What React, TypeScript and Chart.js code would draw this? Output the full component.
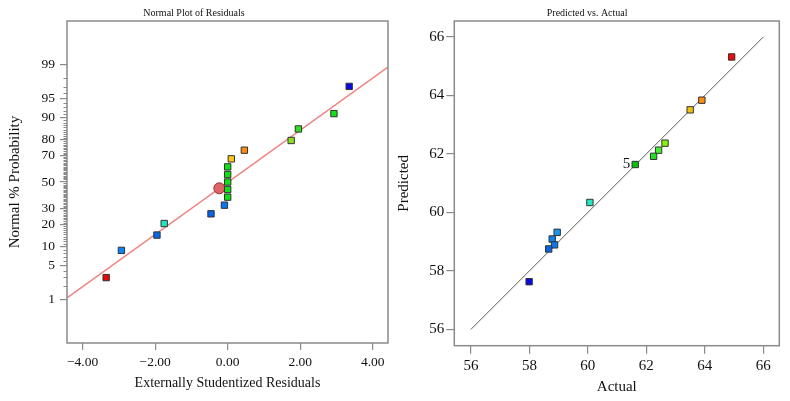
import React, { useEffect, useRef } from "react";
import { Chart, Scale, registerables } from "chart.js";

Chart.register(...registerables);

// ---------- data: Normal plot of residuals ----------
const RESID_X = [3.35, 2.93, 1.95, 1.75, 0.46, 0.10, 0.0, 0.0, 0.0, 0.0, 0.0, -0.09, -0.46, -1.75, -1.95, -2.93, -3.35];
const RESID_P = [97.06, 91.18, 85.29, 79.41, 73.53, 67.65, 61.76, 55.88, 50.0, 44.12, 38.24, 32.35, 26.47, 20.59, 14.71, 8.82, 2.94];
const RESID_COLORS = [
  "#0a0ae6", "#10e010", "#30e020", "#8ae020", "#ff8c10", "#ffc810",
  "#10e010", "#10e010", "#10e010", "#10e010", "#10e010",
  "#0878f0", "#0864e6", "#20e8c0", "#0868e8", "#0a84f2", "#e80808",
];
const MEAN_POINT = { x: -0.23, y: 45.05 };
const FIT_X = [-4.43, 4.42];
const FIT_P = [1.1, 98.84];
const PROB_TICKS = [1, 5, 10, 20, 30, 50, 70, 80, 90, 95, 99];
const RESID_TICKS = [-4, -2, 0, 2, 4];

// ---------- data: Predicted vs. Actual ----------
const ACTUAL = [64.92, 63.90, 63.50, 62.64, 62.42, 62.25, 61.62, 60.07, 58.95, 58.78, 58.86, 58.66, 57.99];
const PREDICTED = [65.32, 63.84, 63.51, 62.37, 62.13, 61.92, 61.64, 60.34, 59.32, 59.09, 58.89, 58.75, 57.63];
const PA_COLORS = [
  "#ee0a0a", "#ff8c10", "#f2c010", "#86f010", "#40f030", "#20e020", "#08c008",
  "#20e8c0", "#1498f2", "#0a84f0", "#0a78ee", "#0864e2", "#0a0ae0",
];
const PA_LABELS = ["", "", "", "", "", "", "5", "", "", "", "", "", ""];
const PA_TICKS = [56, 58, 60, 62, 64, 66];
const DIAG = [56, 66];

const FONT = "'Liberation Serif', 'Times New Roman', serif";
const AXIS_GRAY = "#8a8a8a";

// ---------- normal distribution helpers for the probability scale ----------
function probit(p: number): number {
  const a = [-3.969683028665376e1, 2.209460984245205e2, -2.759285104469687e2, 1.38357751867269e2, -3.066479806614716e1, 2.506628277459239];
  const b = [-5.447609879822406e1, 1.615858368580409e2, -1.556989798598866e2, 6.680131188771972e1, -1.328068155288572e1];
  const c = [-7.784894002430293e-3, -3.223964580411365e-1, -2.400758277161838, -2.549732539343734, 4.374664141464968, 2.938163982698783];
  const d = [7.784695709041462e-3, 3.224671290700398e-1, 2.445134137142996, 3.754408661907416];
  const pl = 0.02425;
  if (p < pl) {
    const q = Math.sqrt(-2 * Math.log(p));
    return (((((c[0] * q + c[1]) * q + c[2]) * q + c[3]) * q + c[4]) * q + c[5]) / ((((d[0] * q + d[1]) * q + d[2]) * q + d[3]) * q + 1);
  }
  if (p > 1 - pl) {
    const q = Math.sqrt(-2 * Math.log(1 - p));
    return -(((((c[0] * q + c[1]) * q + c[2]) * q + c[3]) * q + c[4]) * q + c[5]) / ((((d[0] * q + d[1]) * q + d[2]) * q + d[3]) * q + 1);
  }
  const q = p - 0.5;
  const r = q * q;
  return (((((a[0] * r + a[1]) * r + a[2]) * r + a[3]) * r + a[4]) * r + a[5]) * q / (((((b[0] * r + b[1]) * r + b[2]) * r + b[3]) * r + b[4]) * r + 1);
}
function normCdf(z: number): number {
  const t = 1 / (1 + 0.2316419 * Math.abs(z));
  const dd = 0.3989423 * Math.exp(-z * z / 2);
  const pr = dd * t * (0.3193815 + t * (-0.3565638 + t * (1.781478 + t * (-1.821256 + t * 1.330274))));
  return z > 0 ? 1 - pr : pr;
}

class ProbitScale extends Scale {
  static id = "probit";
  static defaults = {};
  determineDataLimits() {
    const o: any = (this as any).options;
    (this as any).min = o.min;
    (this as any).max = o.max;
  }
  buildTicks() {
    return PROB_TICKS.map((v) => ({ value: v }));
  }
  getLabelForValue(v: number) {
    return String(v);
  }
  getPixelForValue(v: number) {
    const s: any = this;
    const zmin = probit(s.min / 100);
    const zmax = probit(s.max / 100);
    const z = probit(v / 100);
    return s.getPixelForDecimal((z - zmin) / (zmax - zmin));
  }
  getValueForPixel(px: number) {
    const s: any = this;
    const zmin = probit(s.min / 100);
    const zmax = probit(s.max / 100);
    const dec = s.getDecimalForPixel(px);
    return 100 * normCdf(zmin + dec * (zmax - zmin));
  }
}
Chart.register(ProbitScale as any);

const boxPlugin = {
  id: "box",
  afterDraw(chart: any) {
    const { ctx, chartArea: a } = chart;
    ctx.save();
    ctx.strokeStyle = AXIS_GRAY;
    ctx.lineWidth = 1.5;
    ctx.strokeRect(a.left, a.top, a.right - a.left, a.bottom - a.top);
    ctx.restore();
  },
};

const minorTickPlugin = {
  id: "minorTicks",
  afterDraw(chart: any) {
    const s = chart.scales.y;
    const { ctx } = chart;
    ctx.save();
    ctx.strokeStyle = AXIS_GRAY;
    ctx.lineWidth = 1;
    for (let p = 1; p <= 99; p++) {
      if (PROB_TICKS.includes(p)) continue;
      const y = Math.round(s.getPixelForValue(p)) + 0.5;
      ctx.beginPath();
      ctx.moveTo(s.right - 3.5, y);
      ctx.lineTo(s.right, y);
      ctx.stroke();
    }
    ctx.restore();
  },
};

const pointLabelPlugin = {
  id: "pointLabels",
  afterDatasetsDraw(chart: any) {
    const { ctx } = chart;
    const meta = chart.getDatasetMeta(0);
    ctx.save();
    ctx.fillStyle = "#111";
    ctx.font = `15px ${FONT}`;
    ctx.textAlign = "right";
    ctx.textBaseline = "middle";
    PA_LABELS.forEach((t, i) => {
      if (!t) return;
      const el = meta.data[i];
      ctx.fillText(t, el.x - 5, el.y);
    });
    ctx.restore();
  },
};

function NormalPlot() {
  const ref = useRef<HTMLCanvasElement>(null);
  useEffect(() => {
    const chart = new Chart(ref.current!, {
      type: "scatter",
      data: {
        datasets: [
          {
            data: RESID_X.map((x, i) => ({ x, y: RESID_P[i] })),
            pointStyle: "rect",
            pointRadius: 4.5,
            backgroundColor: RESID_COLORS,
            borderColor: "#333333",
            borderWidth: 1,
          },
          {
            data: [MEAN_POINT],
            pointStyle: "circle",
            pointRadius: 5.5,
            backgroundColor: "#e06464",
            borderColor: "#8a3030",
            borderWidth: 1,
          },
          {
            data: FIT_X.map((x, i) => ({ x, y: FIT_P[i] })),
            showLine: true,
            pointRadius: 0,
            borderColor: "#f08282",
            borderWidth: 1.5,
          },
        ] as any,
      },
      options: {
        animation: false,
        responsive: false,
        events: [],
        layout: { padding: { left: 0, right: 7, top: 0, bottom: 0 } },
        plugins: {
          legend: { display: false },
          tooltip: { enabled: false },
          title: {
            display: true,
            text: "Normal Plot of Residuals",
            color: "#111",
            font: { family: FONT, size: 10, weight: "normal" },
            padding: { top: 7, bottom: 2 },
          },
        },
        scales: {
          x: {
            type: "linear",
            min: -4.43,
            max: 4.42,
            afterBuildTicks: (s: any) => { s.ticks = RESID_TICKS.map((v) => ({ value: v })); },
            afterFit: (s: any) => { s.height = 58; },
            ticks: {
              color: "#111",
              font: { family: FONT, size: 13.5 },
              padding: 4,
              autoSkip: false,
              maxRotation: 0,
              callback: (v: any) => Number(v).toFixed(2).replace("-", "\u2212"),
            },
            grid: { drawOnChartArea: false, drawTicks: true, tickLength: 7, color: AXIS_GRAY, lineWidth: 1.2 },
            border: { display: false },
            title: {
              display: true,
              text: "Externally Studentized Residuals",
              color: "#111",
              font: { family: FONT, size: 14 },
              padding: { top: 0, bottom: 9.4 },
            },
          },
          y: {
            type: "probit" as any,
            min: 0.073,
            max: 99.927,
            position: "left",
            afterFit: (s: any) => { s.width = 67; },
            ticks: { color: "#111", font: { family: FONT, size: 13.5 }, padding: 5, autoSkip: false },
            grid: { drawOnChartArea: false, drawTicks: true, tickLength: 7, color: AXIS_GRAY, lineWidth: 1.2 },
            border: { display: false },
            title: {
              display: true,
              text: "Normal % Probability",
              color: "#111",
              font: { family: FONT, size: 15 },
              padding: { top: 6, bottom: 0 },
            },
          } as any,
        },
      } as any,
      plugins: [boxPlugin, minorTickPlugin],
    });
    return () => chart.destroy();
  }, []);
  return <canvas ref={ref} width={395} height={401} style={{ display: "block" }} />;
}

function PredActPlot() {
  const ref = useRef<HTMLCanvasElement>(null);
  useEffect(() => {
    const chart = new Chart(ref.current!, {
      type: "scatter",
      data: {
        datasets: [
          {
            data: ACTUAL.map((x, i) => ({ x, y: PREDICTED[i] })),
            pointStyle: "rect",
            pointRadius: 4.5,
            backgroundColor: PA_COLORS,
            borderColor: "#333333",
            borderWidth: 1,
          },
          {
            data: DIAG.map((v) => ({ x: v, y: v })),
            showLine: true,
            pointRadius: 0,
            borderColor: "#5a5a5a",
            borderWidth: 1,
          },
        ] as any,
      },
      options: {
        animation: false,
        responsive: false,
        events: [],
        layout: { padding: { left: 0, right: 10.7, top: 0, bottom: 0 } },
        plugins: {
          legend: { display: false },
          tooltip: { enabled: false },
          title: {
            display: true,
            text: "Predicted vs. Actual",
            color: "#111",
            font: { family: FONT, size: 10, weight: "normal" },
            padding: { top: 7, bottom: 2 },
          },
        },
        scales: {
          x: {
            type: "linear",
            min: 55.43,
            max: 66.55,
            afterBuildTicks: (s: any) => { s.ticks = PA_TICKS.map((v) => ({ value: v })); },
            afterFit: (s: any) => { s.height = 55.3; },
            ticks: { color: "#111", font: { family: FONT, size: 15 }, padding: 3, autoSkip: false, maxRotation: 0 },
            grid: { drawOnChartArea: false, drawTicks: true, tickLength: 8, color: AXIS_GRAY, lineWidth: 1.2 },
            border: { display: false },
            title: {
              display: true,
              text: "Actual",
              color: "#111",
              font: { family: FONT, size: 15 },
              padding: { top: 0, bottom: 5 },
            },
          },
          y: {
            type: "linear",
            min: 55.44,
            max: 66.55,
            afterBuildTicks: (s: any) => { s.ticks = PA_TICKS.map((v) => ({ value: v })); },
            afterFit: (s: any) => { s.width = 59.3; },
            ticks: { color: "#111", font: { family: FONT, size: 15 }, padding: 2, autoSkip: false },
            grid: { drawOnChartArea: false, drawTicks: true, tickLength: 8, color: AXIS_GRAY, lineWidth: 1.2 },
            border: { display: false },
            title: {
              display: true,
              text: "Predicted",
              color: "#111",
              font: { family: FONT, size: 15 },
              padding: { top: 0, bottom: 0 },
            },
          },
        },
      } as any,
      plugins: [boxPlugin, pointLabelPlugin],
    });
    return () => chart.destroy();
  }, []);
  return <canvas ref={ref} width={395} height={401} style={{ display: "block" }} />;
}

export default function App() {
  return (
    <div
      style={{
        position: "fixed",
        left: 0,
        top: 0,
        width: 790,
        height: 401,
        background: "#ffffff",
        display: "flex",
        flexDirection: "row",
      }}
    >
      <NormalPlot />
      <PredActPlot />
    </div>
  );
}
